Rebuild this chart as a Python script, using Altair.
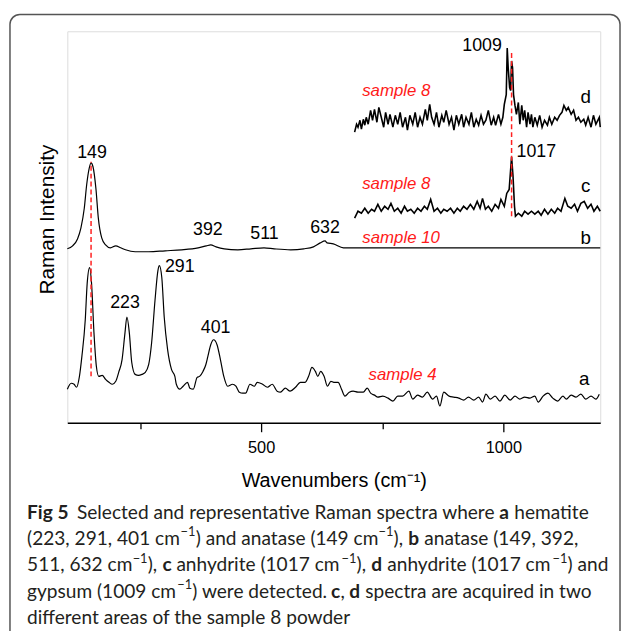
import altair as alt
import pandas as pd

# ---------------- data ----------------
# spectrum a (sample 4)
a_w = [100,108,114,119,125,130,137,141,146,150,155,160,165,172,179,186,193,200,206,213,
       219,223,228,233,240,247,254,261,268,274,281,287,290,295,300,307,315,322,325,332,
       339,348,353,360,368,373,380,386,390,396,402,409,416,423,431,441,448,455,462,468,
       477,486,492,503,513,523,533,540,550,560,571,581,591,598,605,612,617,623,630,637,
       644,650,659,666,673,682,690,700,711,719,726,734,741,751,762,772,782,792,805,813,
       823,833,843,854,862,869,877,888,898,908,918,928,939,949,957,964,973,983,993,1003,
       1014,1024,1034,1044,1055,1065,1072,1082,1092,1102,1112,1123,1130,1140,1150,1160,1170,1181,1191,1198]
a_v = [34,40,39,36,47,67,104,141,157,141,91,57,47,48,44,41,39,42,51,64,
       91,107,91,61,49,48,49,51,59,81,124,154,159,147,107,74,54,47,39,34,
       37,41,35,34,46,47,52,59,67,79,84,79,64,47,37,39,37,31,30,30,
       39,37,41,39,36,39,32,31,35,32,36,41,41,47,56,52,47,52,47,37,
       42,41,41,34,27,31,32,31,31,35,30,28,26,27,25,22,27,27,32,24,
       28,26,31,24,27,17,31,27,26,25,23,26,23,26,21,29,24,27,22,28,
       23,27,24,26,25,27,21,27,30,25,22,27,24,28,26,29,24,27,24,29]

# spectrum b (sample 10)
b_w = [100,111,121,128,135,140,145,149,153,159,164,171,179,189,200,210,220,240,268,302,
       336,370,387,396,407,424,452,479,506,527,561,588,608,622,632,636,649,670,704,772,
       908,1044,1181,1200]
b_v = [176,179,186,197,217,241,257,263,259,237,207,187,180,177,179,177,175,173,173,174,
       175,177,179,180,178,176,175,176,177,176,175,176,178,182,184,182,181,177,177,177,
       177,177,177,177]

# spectrum c (sample 8)
c_w = [693,700,707,714,721,728,734,741,748,755,762,768,775,782,789,796,802,809,816,823,
       830,837,843,850,857,864,871,877,884,891,898,905,911,918,925,932,939,946,952,957,
       963,969,976,983,990,995,1002,1007,1012,1015,1017,1020,1023,1025,1031,1038,1044,1051,1058,1065,
       1072,1078,1085,1092,1099,1106,1112,1119,1127,1133,1140,1147,1153,1160,1167,1174,1181,1187,1194,1200]
c_v = [207,214,212,217,212,216,214,221,214,219,216,222,214,217,212,219,214,216,212,217,
       214,219,216,226,214,217,212,216,214,217,212,217,214,219,216,221,216,224,217,227,
       216,219,214,221,217,226,219,232,236,256,269,249,219,209,212,209,214,211,214,211,
       214,210,216,211,216,212,217,214,227,219,217,221,214,222,224,217,221,214,219,214]

# spectrum d (sample 8, other area)
d_w = [693,697,700,704,707,711,714,717,721,726,730,734,739,743,748,753,757,762,766,772,
       777,782,787,792,798,802,807,813,818,823,828,833,839,843,848,852,857,862,867,873,
       877,882,888,893,898,903,908,914,918,923,929,934,939,944,949,954,959,964,969,975,
       980,984,990,995,999,1002,1006,1008,1010,1013,1015,1017,1019,1021,1024,1027,1031,1034,1038,1041,
       1044,1048,1051,1055,1058,1061,1065,1070,1075,1080,1085,1091,1095,1100,1106,1111,1116,1121,1125,1130,
       1134,1140,1145,1150,1155,1160,1166,1170,1175,1181,1186,1191,1198,1200]
d_v = [294,302,299,306,297,307,301,309,302,316,306,317,304,319,309,299,314,302,312,299,
       311,302,314,299,309,296,311,302,314,299,309,302,317,306,322,309,302,314,299,311,
       304,316,302,309,296,311,302,312,299,309,302,314,299,307,301,311,302,306,316,301,
       309,301,312,302,309,322,332,379,359,339,336,366,359,332,321,312,324,302,321,306,
       316,299,314,302,312,299,309,301,311,299,306,301,309,302,309,306,311,314,321,316,
       319,312,316,306,309,304,307,301,309,299,311,302,309,299]

# peak labels
peak_text = ["149", "392", "511", "632", "1009", "1017", "223", "291", "401"]
peak_w = [151, 390, 507, 632, 956, 1068, 219, 332, 406]
peak_v = [273, 195, 191, 197, 381, 274, 121, 158, 96]

# spectrum letters
letter_text = ["d", "c", "b", "a"]
letter_w = [1170, 1170, 1170, 1167]
letter_v = [329, 239, 187, 44]

# sample names (red)
sample_text = ["sample 8", "sample 8", "sample 10", "sample 4"]
sample_w = [779, 779, 789, 792]
sample_v = [336, 241, 187, 48]

# red dashed marker lines
mark_w = [149, 1017]
mark_v1 = [47, 209]
mark_v2 = [264, 376]

# caption runs: (text, style, gap before in spaces); N normal, B bold, S superscript
SUP = "\u22121"
cap_lines = [
    [("Fig 5", "B", 0), ("Selected and representative Raman spectra where", "N", 2.0),
     ("a", "B", 1.7), ("hematite", "N", 1.3)],
    [("(223, 291, 401 cm", "N", 0), (SUP, "S", 0.15), (") and anatase (149 cm", "N", 0.05),
     (SUP, "S", 0.15), ("),", "N", 0.05), ("b", "B", 1.2), ("anatase (149, 392,", "N", 1.2)],
    [("511, 632 cm", "N", 0), (SUP, "S", 0.15), ("),", "N", 0.05), ("c", "B", 1.2),
     ("anhydrite (1017 cm", "N", 1.2), (SUP, "S", 0.15), ("),", "N", 0.05), ("d", "B", 1.2),
     ("anhydrite (1017 cm", "N", 1.2), (SUP, "S", 0.15), (") and", "N", 0.05)],
    [("gypsum (1009 cm", "N", 0), (SUP, "S", 0.15), (") were detected.", "N", 0.05),
     ("c", "B", 1.2), (",", "N", 0), ("d", "B", 1.2), ("spectra are acquired in two", "N", 1.2)],
    [("different areas of the sample 8 powder", "N", 0)],
]

# ---------------- layout (pixels) ----------------
W, H = 539, 396
CAP_SIZE = 19.3
SUP_SIZE = 13
CAP_X0 = -40.7                      # caption left edge, relative to plot
CAP_Y = [487, 513.7, 540.3, 567, 593]

# approximate advance widths (em) of the caption font, for a simple flow layout
_w = {" ": .193, "(": .30, ")": .30, ",": .23, ".": .23, "\u2212": .58,
      "a": .50, "b": .56, "c": .46, "d": .56, "e": .52, "f": .32, "g": .50, "h": .56,
      "i": .24, "l": .24, "m": .84, "n": .56, "o": .56, "p": .56, "q": .56, "r": .36,
      "s": .41, "t": .34, "u": .56, "v": .51, "w": .76, "x": .50, "y": .51,
      "F": .55, "R": .60, "S": .50}
for ch in "0123456789":
    _w[ch] = .58


def text_w(t, size, style):
    f = {"N": 1.02, "B": 1.08, "S": 1.0}[style]
    return sum(_w.get(ch, .55) for ch in t) * size * f


rows = []
for li, runs in enumerate(cap_lines):
    x = CAP_X0
    for t, st, gap in runs:
        x += gap * _w[" "] * CAP_SIZE
        size = SUP_SIZE if st == "S" else CAP_SIZE
        y = CAP_Y[li] - (7 if st == "S" else 0)
        rows.append({"t": t, "st": st, "px": x, "py": y})
        x += text_w(t, size, st)
cap_df = pd.DataFrame(rows)

spec = pd.concat([
    pd.DataFrame({"w": a_w, "v": a_v, "s": "a"}),
    pd.DataFrame({"w": b_w, "v": b_v, "s": "b"}),
])
noisy = pd.concat([
    pd.DataFrame({"w": c_w, "v": c_v, "s": "c"}),
    pd.DataFrame({"w": d_w, "v": d_v, "s": "d"}),
])

xs = alt.Scale(domain=[100, 1200], nice=False, zero=False)
ys = alt.Scale(domain=[0, H], nice=False, zero=False)

FONT = "Liberation Sans"

x_enc = alt.X("w:Q", scale=xs, axis=alt.Axis(
    title="Wavenumbers (cm\u207b\u00b9)", format="d",
    values=[250, 500, 750, 1000],
    labelExpr="datum.value % 500 === 0 ? datum.label : ''",
    tickSize={"condition": {"test": "datum.value % 500 === 0", "value": 9}, "value": 6},
    grid=False, domainColor="black", tickColor="black", tickWidth=1.3, domainWidth=1.5,
    labelFont=FONT, labelFontSize=16.5, labelColor="black", labelPadding=8,
    titleFont=FONT, titleFontSize=20, titleFontWeight="normal", titleColor="black",
    titlePadding=15,
))
y_enc = alt.Y("v:Q", scale=ys, axis=alt.Axis(
    title="Raman Intensity", domain=False, ticks=False, labels=False, grid=False,
    titleFont=FONT, titleFontSize=21, titleFontWeight="normal", titleColor="black",
    titlePadding=10, titleY=190,
))

lines_smooth = alt.Chart(spec).mark_line(color="black", strokeWidth=1.2, interpolate="monotone").encode(
    x=x_enc, y=y_enc, detail="s:N", order="w:Q")
lines_noisy = alt.Chart(noisy).mark_line(color="black", strokeWidth=1.6, strokeJoin="miter").encode(
    x="w:Q", y="v:Q", detail="s:N", order="w:Q")

marks_df = pd.DataFrame({"w": mark_w, "v1": mark_v1, "v2": mark_v2})
dashed = alt.Chart(marks_df).mark_rule(color="#ff2020", strokeWidth=1.5, strokeDash=[5, 3]).encode(
    x="w:Q", y="v1:Q", y2="v2:Q")

peaks = alt.Chart(pd.DataFrame({"t": peak_text, "w": peak_w, "v": peak_v})).mark_text(
    font=FONT, fontSize=18, color="black", baseline="middle").encode(x="w:Q", y="v:Q", text="t:N")
letters = alt.Chart(pd.DataFrame({"t": letter_text, "w": letter_w, "v": letter_v})).mark_text(
    font=FONT, fontSize=19, color="black", baseline="middle").encode(x="w:Q", y="v:Q", text="t:N")
samples = alt.Chart(pd.DataFrame({"t": sample_text, "w": sample_w, "v": sample_v})).mark_text(
    font=FONT, fontSize=17, fontStyle="italic", color="#ff1a1a", baseline="middle").encode(
    x="w:Q", y="v:Q", text="t:N")

CAPFONT = "Lato"
CAPCOL = "#231f20"


def cap_layer(style, **kw):
    return alt.Chart(cap_df[cap_df.st == style]).mark_text(
        font=CAPFONT, color=CAPCOL, align="left", baseline="middle", **kw).encode(
        x=alt.X("px:Q", scale=None), y=alt.Y("py:Q", scale=None), text="t:N")


cap_n = cap_layer("N", fontSize=CAP_SIZE)
cap_b = cap_layer("B", fontSize=CAP_SIZE, fontWeight="bold")
cap_s = cap_layer("S", fontSize=SUP_SIZE)

border = alt.Chart(pd.DataFrame({"k": [0]})).mark_rect(
    fill=None, fillOpacity=0, stroke="#555555", strokeWidth=1.5, cornerRadius=10).encode(
    x=alt.value(-58), x2=alt.value(559), y=alt.value(-17), y2=alt.value(620))

chart = alt.layer(
    lines_smooth, lines_noisy, dashed, peaks, letters, samples, cap_n, cap_b, cap_s, border
).properties(
    width=W, height=H,
    autosize=alt.AutoSizeParams(type="none"),
    padding={"left": 60, "top": 20, "right": 21, "bottom": 207},
).configure_view(stroke="black", strokeWidth=1.5).configure(background="white")

chart.save("out.html", embed_options={"renderer": "svg", "actions": False})
